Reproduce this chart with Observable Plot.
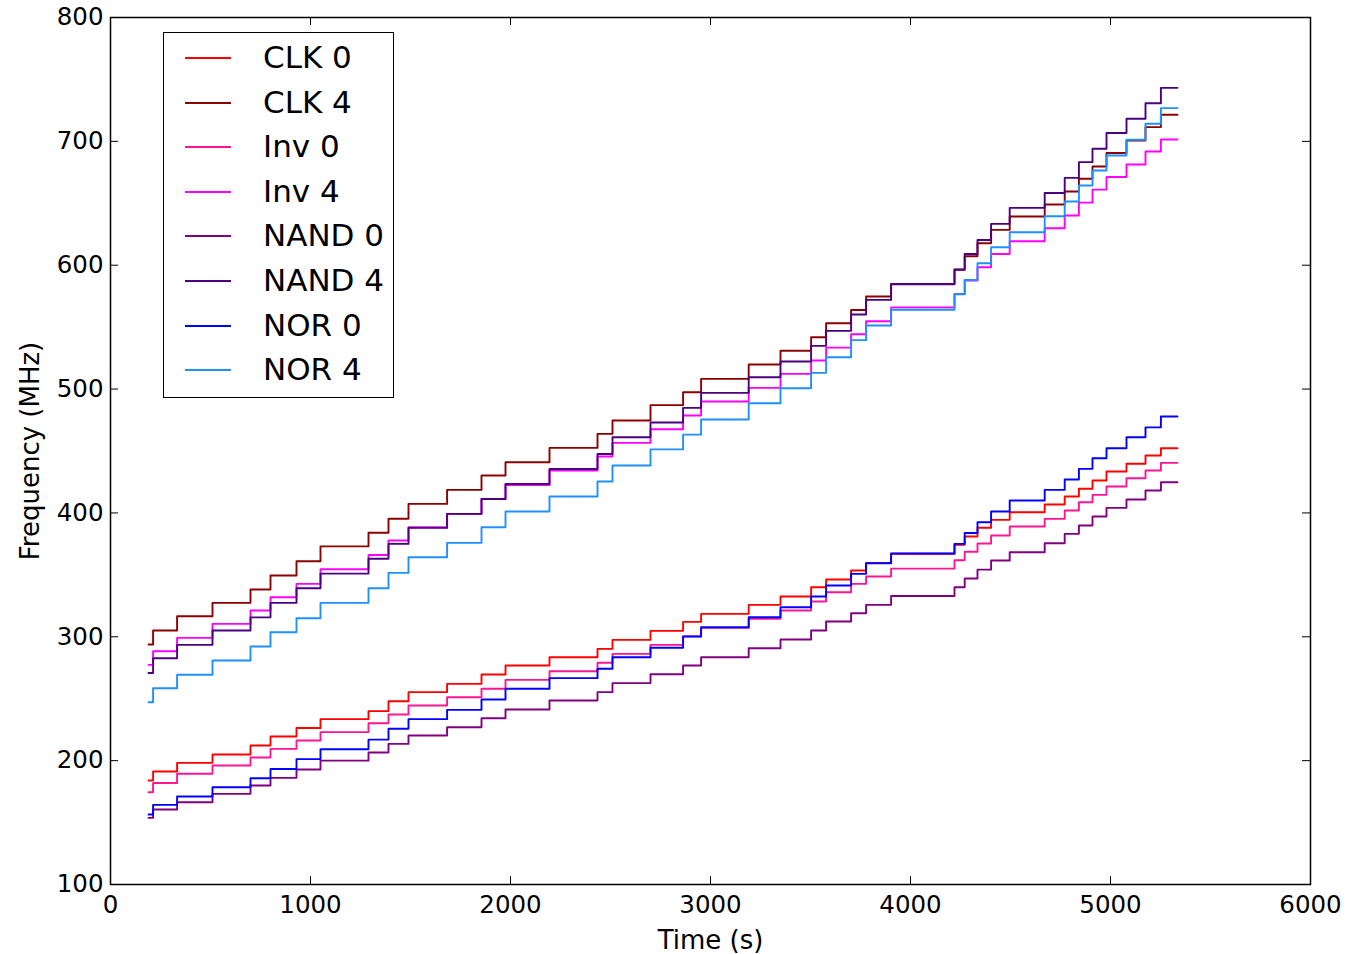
<!DOCTYPE html>
<html>
<head>
<meta charset="utf-8">
<script src="https://cdn.jsdelivr.net/npm/d3@7"></script>
<script src="https://cdn.jsdelivr.net/npm/@observablehq/plot@0.6"></script>
<style>
  html, body { margin: 0; padding: 0; background: #fff; }
  #wrap { position: relative; width: 1370px; height: 954px; font-family: "DejaVu Sans", sans-serif; }
  #legend { position: absolute; left: 163px; top: 32px; width: 229px; height: 364px; border: 1.5px solid #000; background: #fff; }
  .row { position: absolute; left: 0; height: 40px; width: 229px; }
  .sw { position: absolute; left: 21px; width: 46px; height: 2px; top: 19px; }
  .lb { position: absolute; left: 99px; top: -1px; line-height: 40px; font-size: 31px; color: #000; white-space: nowrap; }
</style>
</head>
<body>
<div id="wrap"><div id="chart"></div><div id="legend"></div></div>
<script>
// ---- data ----
const seriesNames = ["CLK 0", "CLK 4", "Inv 0", "Inv 4", "NAND 0", "NAND 4", "NOR 0", "NOR 4"];
const seriesColors = ["#ff0000", "#8b0000", "#ff1493", "#ff00ff", "#800080", "#4b0082", "#0000ff", "#1e90ff"];
// start time (s) of each constant-frequency step, shared by all series
const stepTimes = [190, 213, 333, 510, 700, 800, 930, 1050, 1290, 1390, 1490, 1683, 1855, 1975, 2195, 2435, 2510, 2700, 2863, 2953,
  3191, 3350, 3503, 3578, 3703, 3778, 3903, 4220, 4271, 4335, 4403, 4496, 4671, 4771, 4842, 4910, 4980, 5080, 5175, 5252];
const endTime = 5335;
const clk0 = [184.0, 191.2, 198.2, 205.0, 212.2, 219.5, 226.4, 233.5, 240.0, 247.9, 255.3, 262.0, 269.5, 276.8, 283.5, 290.2, 297.5, 304.8, 312.0, 318.5,
  325.8, 332.5, 340.0, 346.3, 353.5, 359.7, 367.0, 374.3, 381.0, 388.0, 394.4, 400.5, 406.8, 413.3, 419.5, 426.2, 433.4, 439.7, 446.4, 452.2];
const clk4 = [293.8, 305.1, 316.6, 327.4, 338.2, 349.5, 361.0, 373.0, 384.0, 395.3, 407.3, 418.6, 430.2, 440.9, 452.5, 463.8, 474.6, 487.0, 497.4, 508.2,
  519.8, 531.0, 541.8, 553.1, 563.9, 574.7, 584.9, 596.3, 607.2, 617.7, 628.5, 639.3, 649.0, 659.5, 669.8, 679.7, 690.6, 700.7, 711.5, 721.5];
const inv0 = [174.5, 182.0, 189.4, 196.1, 202.5, 209.5, 216.3, 223.0, 230.2, 237.3, 244.5, 251.2, 258.0, 265.2, 272.2, 279.0, 286.2, 293.5, 300.3, 307.2,
  314.5, 321.2, 328.5, 336.0, 342.7, 348.7, 355.0, 361.8, 368.6, 375.3, 381.8, 389.0, 395.2, 402.0, 408.6, 414.6, 421.3, 428.0, 434.3, 440.4];
const inv4 = [277.3, 288.3, 299.1, 310.4, 321.2, 331.9, 342.7, 354.5, 366.0, 377.7, 388.4, 399.2, 411.3, 422.6, 434.3, 445.6, 456.6, 467.6, 478.7, 490.0,
  501.0, 512.3, 523.1, 533.5, 544.3, 554.7, 566.0, 576.8, 587.7, 598.4, 609.1, 619.3, 629.8, 640.1, 650.5, 661.0, 671.2, 681.3, 691.8, 701.5];
const nand0 = [153.8, 160.6, 166.4, 173.2, 179.9, 186.1, 192.8, 200.0, 206.6, 213.5, 220.3, 227.0, 234.2, 241.3, 248.6, 255.3, 262.6, 269.8, 276.8, 283.5,
  290.8, 297.8, 305.1, 312.3, 319.0, 325.8, 332.9, 340.0, 347.0, 354.2, 361.6, 368.3, 375.5, 383.1, 389.8, 397.1, 404.1, 410.8, 418.1, 424.8];
const nand4 = [270.8, 282.7, 293.5, 305.1, 315.7, 327.4, 339.2, 351.0, 363.0, 375.0, 387.9, 399.2, 411.3, 423.4, 435.5, 447.6, 461.1, 473.0, 484.8, 496.9,
  509.5, 522.3, 534.9, 547.0, 560.2, 572.0, 584.6, 596.5, 609.1, 620.4, 633.4, 646.3, 658.3, 670.5, 683.2, 694.0, 706.7, 718.3, 730.8, 743.2];
const nor0 = [156.5, 164.3, 171.0, 178.5, 185.8, 193.3, 201.2, 209.2, 217.0, 225.7, 233.5, 241.0, 249.4, 258.0, 266.6, 274.2, 283.5, 291.2, 300.2, 307.7,
  315.8, 323.9, 332.5, 341.4, 350.8, 359.4, 367.2, 375.0, 383.8, 392.5, 401.1, 410.0, 418.6, 427.0, 435.6, 444.1, 452.2, 461.1, 469.1, 477.9];
const nor4 = [247.2, 258.5, 269.3, 280.9, 292.2, 303.7, 315.0, 327.4, 339.2, 351.6, 364.2, 375.8, 388.4, 401.1, 413.3, 425.4, 438.3, 451.3, 463.2, 475.4,
  488.6, 500.7, 513.1, 525.7, 539.5, 551.3, 564.0, 576.5, 588.1, 601.6, 614.5, 626.6, 639.5, 651.4, 664.4, 676.5, 688.6, 701.3, 714.2, 726.8];
const xTicks = [0, 1000, 2000, 3000, 4000, 5000, 6000];
const yTicks = [100, 200, 300, 400, 500, 600, 700, 800];
const xLabel = "Time (s)";
const yLabel = "Frequency (MHz)";

// ---- build table ----
const seriesValues = [clk0, clk4, inv0, inv4, nand0, nand4, nor0, nor4];
const rows = [];
seriesNames.forEach((name, k) => {
  const vals = seriesValues[k];
  stepTimes.forEach((t, i) => rows.push({s: name, t, v: vals[i]}));
  rows.push({s: name, t: endTime, v: vals[vals.length - 1]});
});

const W = 1370, H = 954;
const mL = 110, mR = 60, mT = 17, mB = 70;
const innerH = H - mT - mB, innerW = W - mL - mR;
const tick = 8;
const fmt = d3.format("d");

const chart = Plot.plot({
  width: W, height: H,
  marginLeft: mL, marginRight: mR, marginTop: mT, marginBottom: mB,
  style: {fontFamily: "DejaVu Sans, sans-serif", fontSize: "24px", background: "white", color: "black"},
  x: {domain: [0, 6000], ticks: xTicks},
  y: {domain: [100, 800], ticks: yTicks},
  color: {domain: seriesNames, range: seriesColors},
  marks: [
    Plot.line(rows, {x: "t", y: "v", z: "s", stroke: "s", curve: "step-after", strokeWidth: 1.9}),
    // inward ticks on all four sides
    Plot.ruleX(xTicks, {x: d => d, insetTop: innerH - tick, stroke: "black", strokeWidth: 1}),
    Plot.ruleX(xTicks, {x: d => d, insetBottom: innerH - tick, stroke: "black", strokeWidth: 1}),
    Plot.ruleY(yTicks, {y: d => d, insetRight: innerW - tick, stroke: "black", strokeWidth: 1}),
    Plot.ruleY(yTicks, {y: d => d, insetLeft: innerW - tick, stroke: "black", strokeWidth: 1}),
    Plot.frame({stroke: "black", strokeWidth: 1.5}),
    Plot.axisX(xTicks, {tickSize: 0, tickPadding: 11, label: null, fontSize: 24.5, tickFormat: fmt}),
    Plot.axisY(yTicks, {tickSize: 0, tickPadding: 7, label: null, fontSize: 24.5, tickFormat: fmt}),
    Plot.text([xLabel], {frameAnchor: "bottom", dy: 56, text: d => d, fontSize: 26, lineAnchor: "middle", textAnchor: "middle"}),
    Plot.text([yLabel], {frameAnchor: "left", dx: -80, rotate: -90, text: d => d, fontSize: 26, lineAnchor: "middle", textAnchor: "middle"})
  ]
});
document.getElementById("chart").appendChild(chart);

// legend
const leg = document.getElementById("legend");
seriesNames.forEach((name, i) => {
  const r = document.createElement("div");
  r.className = "row";
  r.style.top = (5 + i * 44.6) + "px";
  const sw = document.createElement("div");
  sw.className = "sw";
  sw.style.background = seriesColors[i];
  const lb = document.createElement("div");
  lb.className = "lb";
  lb.textContent = name;
  r.appendChild(sw); r.appendChild(lb);
  leg.appendChild(r);
});
</script>
</body>
</html>
